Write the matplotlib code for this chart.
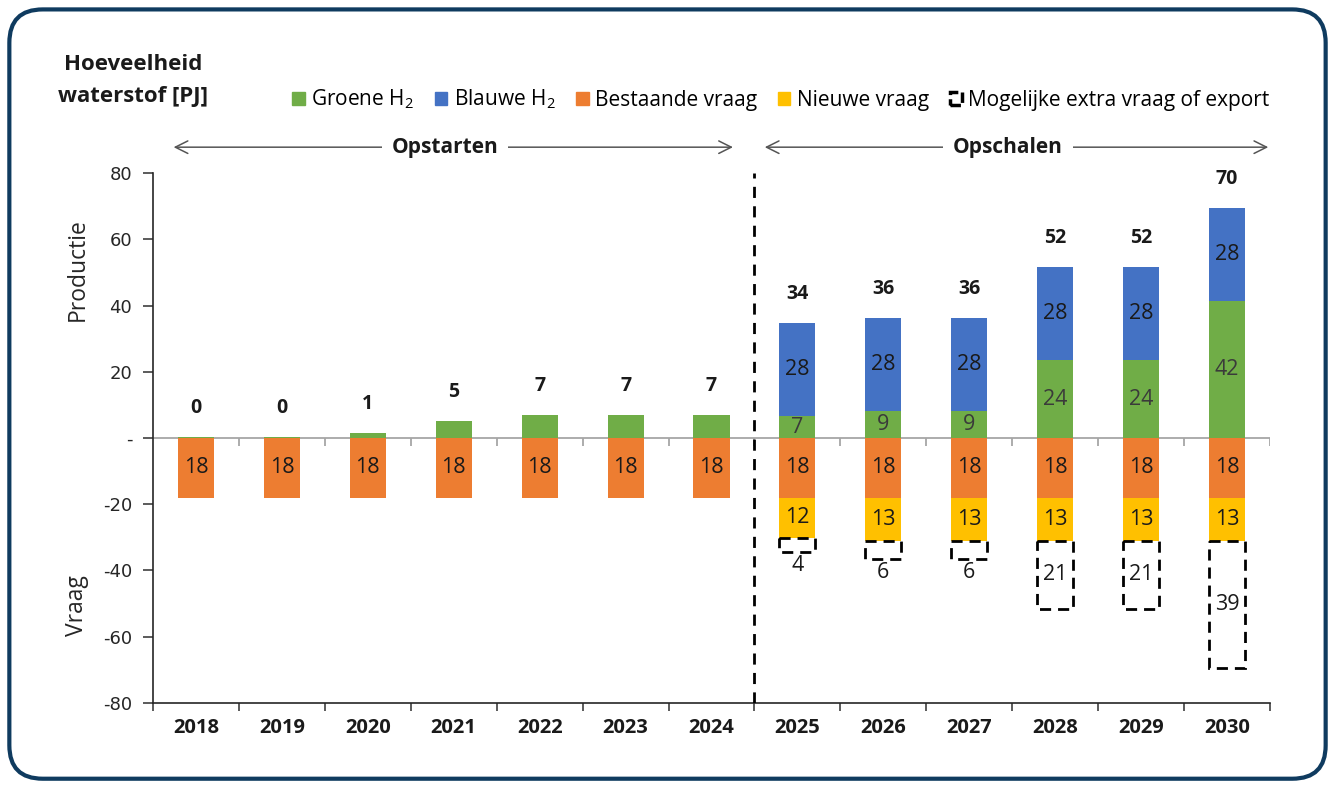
import numpy as np
import matplotlib
matplotlib.use("Agg")
import matplotlib.pyplot as plt
from matplotlib.patches import Rectangle, FancyBboxPatch

plt.rcParams['font.family'] = ['Open Sans', 'DejaVu Sans']
plt.rcParams['mathtext.fontset'] = 'custom'
plt.rcParams['mathtext.rm'] = 'Open Sans'
plt.rcParams['mathtext.it'] = 'Open Sans'

# Data (PJ)
years = ['2018', '2019', '2020', '2021', '2022', '2023', '2024',
         '2025', '2026', '2027', '2028', '2029', '2030']
groen = [0.3, 0.3, 1.4, 5.1, 6.9, 6.9, 6.9, 6.6, 8.2, 8.2, 23.5, 23.5, 41.5]
blauw = [0, 0, 0, 0, 0, 0, 0, 28, 28, 28, 28, 28, 28]
bestaand = [18] * 13
nieuw = [0, 0, 0, 0, 0, 0, 0, 12.3, 13, 13, 13, 13, 13]
extra = [0, 0, 0, 0, 0, 0, 0, 4.2, 5.5, 5.5, 20.5, 20.5, 38.5]

totaal_lbl = ['0', '0', '1', '5', '7', '7', '7', '34', '36', '36', '52', '52', '70']
groen_lbl = ['', '', '', '', '', '', '', '7', '9', '9', '24', '24', '42']
blauw_lbl = ['', '', '', '', '', '', '', '28', '28', '28', '28', '28', '28']
bestaand_lbl = ['18'] * 13
nieuw_lbl = ['', '', '', '', '', '', '', '12', '13', '13', '13', '13', '13']
extra_lbl = ['', '', '', '', '', '', '', '4', '6', '6', '21', '21', '39']

c_groen = '#70AD47'
c_blauw = '#4472C4'
c_oranje = '#ED7D31'
c_geel = '#FFC000'

x = np.arange(len(years))
groen = np.array(groen)
blauw = np.array(blauw)
bestaand = np.array(bestaand)
nieuw = np.array(nieuw)
extra = np.array(extra)
w = 0.42
fs_lbl = 15.5

fig = plt.figure(figsize=(13.35, 7.85), dpi=100)
ax = fig.add_axes([0.1146, 0.1045, 0.8367, 0.6751])

# production (positive)
ax.bar(x, groen, w, color=c_groen, zorder=2)
ax.bar(x, blauw, w, bottom=groen, color=c_blauw, zorder=2)
# demand (negative)
ax.bar(x, -bestaand, w, color=c_oranje, zorder=2)
ax.bar(x, -nieuw, w, bottom=-bestaand, color=c_geel, zorder=2)
ext_bottom = -bestaand - nieuw
m = extra > 0
ax.bar(x[m], -extra[m], w, bottom=ext_bottom[m], fill=False, edgecolor='black',
       linewidth=2, linestyle=(0, (4, 2.5)), zorder=3)

# segment labels
for i in range(len(x)):
    if groen_lbl[i]:
        ax.text(x[i], groen[i] / 2, groen_lbl[i], ha='center', va='center',
                fontsize=fs_lbl, color='#3a3a3a')
    if blauw_lbl[i]:
        ax.text(x[i], groen[i] + blauw[i] / 2, blauw_lbl[i], ha='center',
                va='center', fontsize=fs_lbl, color='#1a1a1a')
    ax.text(x[i], -bestaand[i] / 2, bestaand_lbl[i], ha='center', va='center',
            fontsize=fs_lbl, color='#1a1a1a')
    if nieuw_lbl[i]:
        ax.text(x[i], -bestaand[i] - nieuw[i] / 2, nieuw_lbl[i], ha='center',
                va='center', fontsize=fs_lbl, color='#1a1a1a')
    if extra_lbl[i]:
        if extra[i] < 10:
            ax.annotate(extra_lbl[i], (x[i], ext_bottom[i] - extra[i]),
                        xytext=(0, -2), textcoords='offset points',
                        ha='center', va='top', fontsize=fs_lbl, color='#1a1a1a')
        else:
            ax.text(x[i], ext_bottom[i] - extra[i] / 2, extra_lbl[i],
                    ha='center', va='center', fontsize=fs_lbl, color='#1a1a1a')
    ax.annotate(totaal_lbl[i], (x[i], groen[i] + blauw[i]), xytext=(0, 21),
                textcoords='offset points', ha='center', va='center',
                fontsize=14, fontweight='bold', color='#1a1a1a')

# zero line with small category ticks
ax.axhline(0, color='#a6a6a6', lw=1.3, zorder=1)
ax.vlines(np.append(x[:-1] + 0.5, x[-1] + 0.5), -2.3, 0, color='#a6a6a6',
          lw=1.3, zorder=1)

# separator between phases
ax.axvline(6.5, color='black', lw=2, linestyle=(0, (4, 3)), zorder=4)

ax.set_xlim(-0.5, 12.5)
ax.set_ylim(-80, 80)
ax.set_yticks(np.arange(-80, 81, 20))
ax.set_yticklabels(['-80', '-60', '-40', '-20', '-', '20', '40', '60', '80'],
                   family='DejaVu Sans', fontsize=13, color='#262626')
ax.set_xticks(x)
ax.set_xticklabels(years, fontsize=14.5, fontweight='bold', color='#1a1a1a')
ax.set_xticks(np.arange(-0.5, 12.6, 1), minor=True)
ax.tick_params(axis='x', which='major', length=0, pad=11)
ax.tick_params(axis='x', which='minor', length=6, width=1.2, color='#404040')
ax.tick_params(axis='y', length=7, width=1.2, color='#404040', pad=8)
for s in ['top', 'right']:
    ax.spines[s].set_visible(False)
ax.spines['left'].set_color('#262626')
ax.spines['left'].set_linewidth(1.2)
ax.spines['bottom'].set_color('#262626')
ax.spines['bottom'].set_linewidth(1.2)

# phase arrows
ya = 87.8
for (x0, x1, txt) in [(-0.26, 6.25, 'Opstarten'), (6.62, 12.48, 'Opschalen')]:
    ax.annotate('', xy=(x0, ya), xytext=(x1, ya), annotation_clip=False,
                arrowprops=dict(arrowstyle='<->,head_length=0.9,head_width=0.45',
                                color='#555555', lw=1.1, shrinkA=0, shrinkB=0))
    ax.text((x0 + x1) / 2 - 0.1, ya, txt, ha='center', va='center', fontsize=15,
            fontweight='bold', color='#1a1a1a', clip_on=False,
            bbox=dict(facecolor='white', edgecolor='none', pad=7))

# axis captions
fig.text(0.0995, 0.918, 'Hoeveelheid', ha='center', va='center', fontsize=16,
         fontweight='bold', color='#1a1a1a')
fig.text(0.0995, 0.877, 'waterstof [PJ]', ha='center', va='center', fontsize=16,
         fontweight='bold', color='#1a1a1a')
fig.text(0.058, 0.656, 'Productie', rotation=90, ha='center', va='center',
         fontsize=16.5, color='#262626')
fig.text(0.058, 0.229, 'Vraag', rotation=90, ha='center', va='center',
         fontsize=16.5, color='#262626')

# legend
handles = [Rectangle((0, 0), 1, 1, color=c_groen),
           Rectangle((0, 0), 1, 1, color=c_blauw),
           Rectangle((0, 0), 1, 1, color=c_oranje),
           Rectangle((0, 0), 1, 1, color=c_geel),
           Rectangle((0, 0), 1, 1, fill=False, edgecolor='black', lw=2.5,
                     linestyle=(0, (3, 1.2)))]
labels = ['Groene H$_2$', 'Blauwe H$_2$', 'Bestaande vraag', 'Nieuwe vraag',
          'Mogelijke extra vraag of export']
fig.legend(handles, labels, loc='center', bbox_to_anchor=(0.585, 0.873),
           ncol=5, frameon=False, fontsize=15, handlelength=0.6,
           handleheight=0.6, handletextpad=0.3, columnspacing=1.0)

# rounded frame
frame = FancyBboxPatch((0.007, 0.008), 0.986, 0.98,
                       boxstyle='round,pad=0,rounding_size=0.025',
                       transform=fig.transFigure, facecolor='none',
                       edgecolor='#0f3b5f', lw=3, mutation_aspect=1.7)
fig.patches.append(frame)

fig.savefig('out.png', dpi=100)
